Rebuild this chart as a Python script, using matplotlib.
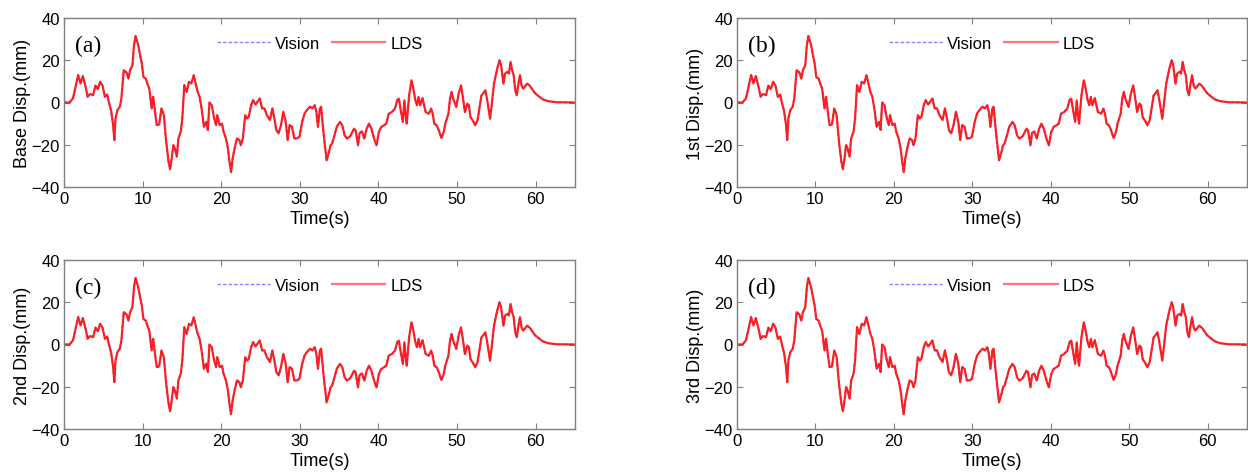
import matplotlib
matplotlib.use("Agg")
import matplotlib.pyplot as plt

# ---- data (time in s, displacement in mm) ----
time_s = [0, 0.7, 1.15, 1.8, 2.1, 2.4, 2.8, 3.0, 3.3, 3.7, 4.0, 4.3, 4.6, 4.9, 5.2, 5.5,
          5.7, 6.0, 6.25, 6.4, 6.55, 6.8, 7.1, 7.3, 7.6, 7.95, 8.2, 8.4, 8.7, 8.9, 9.1,
          9.45, 9.65, 9.9, 10.1, 10.4, 10.65, 10.85, 11.15, 11.35, 11.6, 11.8, 12.1,
          12.4, 12.7, 13.0, 13.3, 13.5, 13.7, 13.9, 14.1, 14.35, 14.55, 14.85, 15.05,
          15.3, 15.6, 15.9, 16.2, 16.5, 16.7, 17.0, 17.25, 17.5, 17.8, 18.1, 18.3, 18.5,
          18.8, 19.1, 19.35, 19.5, 19.8, 20.1, 20.3, 20.6, 20.85, 21.05, 21.25, 21.45,
          21.7, 22.0, 22.3, 22.5, 22.75, 23.05, 23.3, 23.5, 23.8, 24.05, 24.35, 24.6,
          24.9, 25.2, 25.5, 25.8, 26.2, 26.5, 26.8, 27.0, 27.3, 27.6, 27.9, 28.2, 28.45,
          28.7, 29.0, 29.3, 29.65, 29.95, 30.3, 30.6, 30.9, 31.3, 31.6, 31.9, 32.1, 32.3,
          32.55, 32.7, 33.0, 33.4, 33.7, 33.9, 34.1, 34.4, 34.7, 35.1, 35.4, 35.7, 36.0,
          36.4, 36.9, 37.1, 37.4, 37.6, 37.9, 38.2, 38.5, 38.8, 39.1, 39.5, 39.75, 40.05,
          40.35, 40.7, 41.0, 41.3, 41.7, 42.1, 42.4, 42.6, 42.8, 43.1, 43.3, 43.5, 43.6,
          43.9, 44.2, 44.4, 44.7, 44.9, 45.1, 45.3, 45.5, 45.6, 45.8, 46.0, 46.4, 46.7,
          46.9, 47.1, 47.4, 47.6, 48.0, 48.3, 48.5, 48.9, 49.1, 49.3, 49.5, 49.9, 50.2,
          50.5, 50.7, 51.0, 51.3, 51.5, 51.7, 52.1, 52.3, 52.6, 52.8, 53.1, 53.3, 53.6,
          53.8, 54.2, 54.4, 54.7, 55.1, 55.4, 55.6, 55.9, 56.1, 56.4, 56.6, 56.8, 57.0,
          57.2, 57.4, 57.6, 57.8, 58.0, 58.2, 58.4, 58.6, 58.9, 59.2, 59.5, 59.9, 60.4,
          60.9, 61.6, 62.7, 65.0]

base_lds = [0, 0, 2, 13, 9, 12.5, 6.6, 2.7, 4, 3.5, 8, 6.3, 9.8, 8, 2.7, 3.8,
            0.3, -4, -10.7, -17.8, -7.5, -3.6, -2, 1.9, 15.3, 14.2, 11.3, 15.3, 17.6, 27, 31.5,
            27, 23, 18.4, 12.1, 11.3, 8.5, 6.6, -2.8, 2.7, -5.2, -10.7, -10.4,
            -2.8, -6, -18.6, -28, -31.6, -26.5, -20.2, -21.7, -25.6, -17, -13.9, -7.6,
            8.2, 5, 9.8, 9, 12.9, 9.8, 5, 2.7, -2.8, -11.5, -9.1, -13, 0,
            -1.3, -7.6, -10.7, -6, -10.7, -10, -13.9, -17, -21.7, -28, -33, -26.5,
            -21.7, -17, -17.8, -20.2, -17, -6, -7.6, -6.8, -1.3, 1.1, -0.9, 0.3,
            1.9, -2.8, -2.8, -6, -8.3, -2.8, -8.3, -13, -14.6, -10.7, -4.4, -9.1, -17.8,
            -10.7, -11.5, -17, -17, -16.2, -9.1, -5.2, -3.6, -2, -2.8, -1.3, -4.4, -11.5,
            -2.8, -2, -13.9, -27.4, -23.5, -20.3, -19.5, -15.6, -11.5, -9.2, -10.8, -15.6, -17.1,
            -16, -12.4, -13.2, -20.3, -14.5, -13.7, -17.1, -12.4, -10, -12.4, -17.8, -20.3, -14,
            -11.6, -10.8, -10, -5.3, -4.5, -2.9, 1.3, 1.8, -2.9, -9.2, 1, -7.7, -10,
            3.4, 10.5, 7.3, 1, -1.3, 2.6, -1.3, 1, 2.1, -1.3, -4.5, -5.3, -2.9,
            -5.3, -10, -10.8, -12.4, -16.8, -14, -10, -5.3, 1.8, 5, 1.8, -2.1, 4.2,
            8.1, 3.4, -4.5, -0.5, -1.3, -6.9, -9.2, -10.8, -8.4, -3.7, 3.4, 4.2, 5.8,
            1.8, -7.7, -1.3, 8.9, 16, 20, 17.6, 8.9, 13.7, 14.5, 13.7, 19.2, 15.3,
            12.9, 5.8, 3.4, 8.9, 12.9, 8.1, 6.6, 7.4, 8.9, 8.1, 6.6, 4.5, 2.9,
            1.5, 0.6, 0.1, 0]

# the four floors are visually identical at the reference's resolution
first_lds = list(base_lds)
second_lds = list(base_lds)
third_lds = list(base_lds)
base_vision = list(base_lds)
first_vision = list(base_lds)
second_vision = list(base_lds)
third_vision = list(base_lds)

panel_tags = ["(a)", "(b)", "(c)", "(d)"]
y_labels = ["Base Disp.(mm)", "1st Disp.(mm)", "2nd Disp.(mm)", "3rd Disp.(mm)"]
lds_series = [base_lds, first_lds, second_lds, third_lds]
vision_series = [base_vision, first_vision, second_vision, third_vision]
x_ticks = [0, 10, 20, 30, 40, 50, 60]
y_ticks = [-40, -20, 0, 20, 40]

plt.rcParams["font.family"] = ["Liberation Sans", "DejaVu Sans"]

W, H = 1248, 477
fig = plt.figure(figsize=(W / 100, H / 100), dpi=100)

# axes boxes in pixels: (left, top, right, bottom)
boxes = [(64, 19, 575, 188), (737, 19, 1247, 188),
         (64, 261, 575, 430), (737, 261, 1247, 430)]

for i, (l, t, r, b) in enumerate(boxes):
    ax = fig.add_axes([l / W, 1 - b / H, (r - l) / W, (b - t) / H])
    ax.plot(time_s, vision_series[i], color="#3030ff", linestyle="--", lw=1.0,
            dashes=(2.5, 1.5), label="Vision")
    ax.plot(time_s, lds_series[i], color="#ff1a1a", lw=1.6, alpha=0.95, label="LDS")
    ax.set_xlim(0, 65)
    ax.set_ylim(-40, 40)
    ax.set_xticks(x_ticks)
    ax.set_yticks(y_ticks)
    ax.tick_params(direction="in", top=True, right=True, labelsize=12, length=4,
                   color="#808080", width=0.8, pad=3)
    for s in ax.spines.values():
        s.set_color("#808080")
        s.set_linewidth(1.0)
    ax.set_xlabel("Time(s)", fontsize=13, labelpad=3)
    ax.set_ylabel(y_labels[i], fontsize=13, labelpad=0)
    ax.text(0.022, 0.84, panel_tags[i], transform=ax.transAxes, fontsize=17,
            family=["Liberation Serif", "DejaVu Serif"], va="center", ha="left")
    leg = ax.legend(loc="upper center", bbox_to_anchor=(0.5, 0.985), ncol=2,
                    frameon=False, fontsize=12, handlelength=3.2,
                    columnspacing=0.7, handletextpad=0.3)
    for h in leg.get_lines():
        h.set_alpha(0.6)

fig.savefig("out.png", dpi=100)
